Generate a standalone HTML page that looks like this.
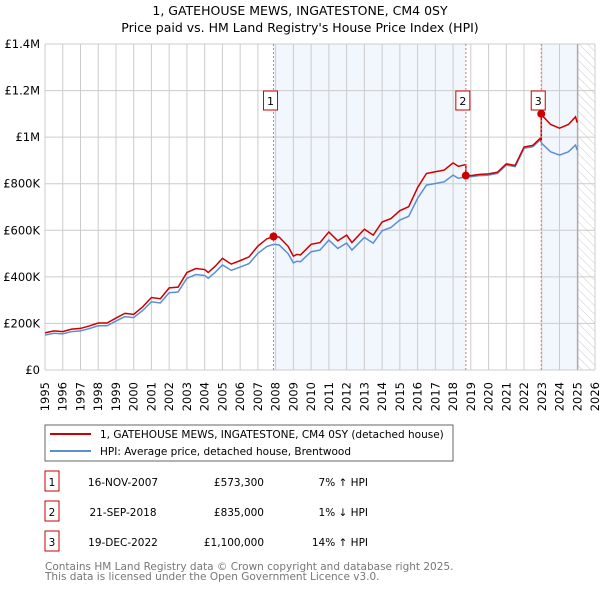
<!DOCTYPE html>
<html><head><meta charset="utf-8"><style>
body{margin:0;background:#fff;font-family:"DejaVu Sans","Liberation Sans",sans-serif;}
svg{display:block}
</style></head><body>
<svg id="chart" width="600" height="590" font-family="DejaVu Sans, Liberation Sans, sans-serif">
<defs><pattern id="hatch" width="6" height="6" patternUnits="userSpaceOnUse" patternTransform="rotate(-45)"><line x1="0" y1="0" x2="0" y2="6" stroke="#ccc" stroke-width="1"/></pattern></defs>
<text x="300" y="15" text-anchor="middle" font-size="12.5" fill="#000">1, GATEHOUSE MEWS, INGATESTONE, CM4 0SY</text>
<text x="300" y="32" text-anchor="middle" font-size="12.5" fill="#000">Price paid vs. HM Land Registry's House Price Index (HPI)</text>
<g id="bg"></g><g id="grid"></g><g id="marks"></g><g id="axes"></g>
<rect x="45" y="425" width="408" height="36" fill="#fff" stroke="#666"/>
<line x1="50" y1="434" x2="91" y2="434" stroke="#cc0000" stroke-width="2"/>
<text x="100" y="438" font-size="10.5">1, GATEHOUSE MEWS, INGATESTONE, CM4 0SY (detached house)</text>
<line x1="50" y1="451" x2="91" y2="451" stroke="#5b8fd4" stroke-width="2"/>
<text x="100" y="455" font-size="10.5">HPI: Average price, detached house, Brentwood</text>
<g id="table" font-size="10.5"></g>
<text x="45" y="570" font-size="10.5" fill="#777">Contains HM Land Registry data © Crown copyright and database right 2025.</text>
<text x="45" y="580" font-size="10.5" fill="#777">This data is licensed under the Open Government Licence v3.0.</text>
</svg>
<script>
const hpiYears=[1995,1995.5,1996,1996.5,1997,1997.5,1998,1998.5,1999,1999.5,2000,2000.5,2001,2001.5,2002,2002.5,2003,2003.5,2004,2004.2,2004.6,2005,2005.5,2006,2006.5,2007,2007.5,2007.9,2008.2,2008.7,2009,2009.2,2009.4,2010,2010.5,2011,2011.5,2012,2012.3,2013,2013.5,2014,2014.5,2015,2015.5,2016,2016.5,2017,2017.5,2018,2018.3,2018.7,2019,2019.5,2020,2020.5,2021,2021.5,2022,2022.5,2022.9,2023,2023.5,2024,2024.5,2024.9,2025];
const hpiValues=[150,158,155,165,168,178,190,190,210,229,225,255,293,288,332,335,394,410,406,394,420,451,428,442,457,501,530,540,537,500,460,467,465,508,515,558,522,545,515,569,545,598,612,644,660,737,794,801,808,837,823,830,830,835,837,844,880,873,952,959,988,973,937,923,937,966,944];
const saleYears=[2007.88,2018.72,2022.97];
const salePrices=[573.3,835,1100];
const saleDates=["16-NOV-2007","21-SEP-2018","19-DEC-2022"];
const salePriceLabels=["£573,300","£835,000","£1,100,000"];
const saleHpiDiff=["7% ↑ HPI","1% ↓ HPI","14% ↑ HPI"];
const yTicks=[0,200,400,600,800,1000,1200,1400];
const yTickLabels=["£0","£200K","£400K","£600K","£800K","£1M","£1.2M","£1.4M"];
const xTicks=[];for(let y=1995;y<=2026;y++)xTicks.push(y);
const X0=45,X1=595,Y0=370,Y1=44;
const xs=y=>X0+(y-1995)/(2026-1995)*(X1-X0);
const ys=v=>Y0-v/1400*(Y0-Y1);
const NS="http://www.w3.org/2000/svg";
function mk(p,t,a){const e=document.createElementNS(NS,t);for(const k in a)e.setAttribute(k,a[k]);p.appendChild(e);return e;}
const bg=document.getElementById('bg'),grid=document.getElementById('grid'),marks=document.getElementById('marks'),axes=document.getElementById('axes'),table=document.getElementById('table');
const lastData=2025.03;
let r;
r=mk(bg,'rect',{x:xs(saleYears[0]),y:Y1,width:xs(saleYears[1])-xs(saleYears[0]),height:Y0-Y1,fill:'#eef3fc',opacity:0.75});

r=mk(bg,'rect',{x:xs(saleYears[2]),y:Y1,width:xs(lastData)-xs(saleYears[2]),height:Y0-Y1,fill:'#eef3fc',opacity:0.75});

r=mk(bg,'rect',{x:xs(lastData),y:Y1,width:X1-xs(lastData),height:Y0-Y1,fill:'url(#hatch)'});

xTicks.forEach(t=>{const l=mk(grid,'line',{x1:xs(t),x2:xs(t),y1:Y1,y2:Y0,stroke:'#ccc','stroke-width':1});

const px=xs(t)+4,py=Y0+12;
const tx=mk(axes,'text',{x:px,y:py,'font-size':11.5,'text-anchor':'end',transform:`rotate(-90 ${px} ${py})`});
tx.textContent=t;
});
yTicks.forEach((t,i)=>{const l=mk(grid,'line',{x1:X0,x2:X1,y1:ys(t),y2:ys(t),stroke:'#ccc','stroke-width':1});

const tx=mk(axes,'text',{x:X0-5,y:ys(t)+4,'font-size':11.5,'text-anchor':'end'});tx.textContent=yTickLabels[i];
});
r=mk(grid,'line',{x1:xs(lastData),x2:xs(lastData),y1:Y1,y2:Y0,stroke:'#999','stroke-width':1});

function hpiAt(y){for(let i=1;i<hpiYears.length;i++){if(y<=hpiYears[i]){const t=(y-hpiYears[i-1])/(hpiYears[i]-hpiYears[i-1]);return hpiValues[i-1]+t*(hpiValues[i]-hpiValues[i-1]);}}return hpiValues[hpiValues.length-1];}
const ratios=saleYears.map((y,i)=>salePrices[i]/hpiAt(y));
let pts=[];
hpiYears.forEach((y,i)=>{let k=0;for(let j=0;j<saleYears.length;j++)if(y>=saleYears[j])k=j;
 if(i>0){saleYears.forEach((s,j)=>{if(s>hpiYears[i-1]&&s<=y){const h=hpiAt(s);pts.push([xs(s),ys(h*ratios[Math.max(0,j-1)])]);pts.push([xs(s),ys(salePrices[j])]);}});}
 pts.push([xs(y),ys(hpiValues[i]*ratios[k])]);});
const hp=mk(marks,'polyline',{points:hpiYears.map((y,i)=>xs(y)+','+ys(hpiValues[i])).join(' '),fill:'none',stroke:'#5b8fd4','stroke-width':1.5});

const pp=mk(marks,'polyline',{points:pts.map(p=>p.join(',')).join(' '),fill:'none',stroke:'#cc0000','stroke-width':1.5});

saleYears.forEach((s,i)=>{const l=mk(marks,'line',{x1:xs(s),x2:xs(s),y1:Y1,y2:Y0,stroke:'#f07070','stroke-width':1,'stroke-dasharray':'2,2'});

const c=mk(marks,'circle',{cx:xs(s),cy:ys(salePrices[i]),r:4,fill:'#cc0000'});

const g=mk(marks,'g',{});
mk(g,'rect',{x:xs(s)-10,y:91,width:14,height:19,fill:'#fff',stroke:'#cc0000'});
const t=mk(g,'text',{x:xs(s)-3,y:105,'font-size':11,'text-anchor':'middle'});t.textContent=i+1;
const ty=483+i*30;
const row=mk(table,'g',{});
mk(row,'rect',{x:45,y:ty-12,width:14,height:20,fill:'#fff',stroke:'#cc0000'});
const n=mk(row,'text',{x:52,y:ty+3,'text-anchor':'middle'});n.textContent=i+1;
const d=mk(row,'text',{x:123,y:ty+3,'text-anchor':'middle'});d.textContent=saleDates[i];
const p=mk(row,'text',{x:264,y:ty+3,'text-anchor':'end'});p.textContent=salePriceLabels[i];
const h=mk(row,'text',{x:368,y:ty+3,'text-anchor':'end'});h.textContent=saleHpiDiff[i];});
</script>
</body></html>
